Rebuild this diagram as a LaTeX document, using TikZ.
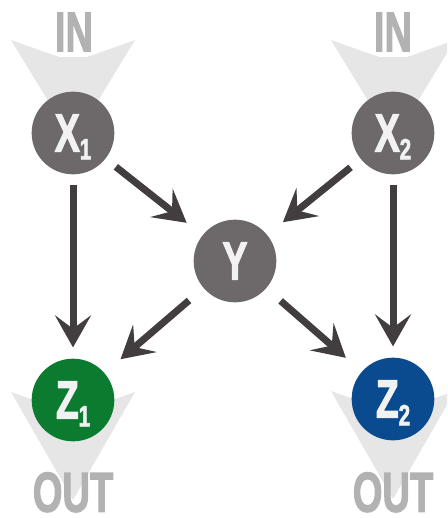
\documentclass[tikz,border=0pt]{standalone}
\usepackage{fontspec}
\setmainfont{Liberation Sans}
\newfontfamily\heavyfont{Liberation Sans Bold}[FakeBold=2.5]
\usetikzlibrary{arrows.meta,calc}

\definecolor{nodegray}{RGB}{109,105,106}
\definecolor{arrowgray}{RGB}{66,62,63}
\definecolor{zgreen}{RGB}{11,123,48}
\definecolor{zblue}{RGB}{10,74,143}
\definecolor{funnelgray}{RGB}{230,230,230}
\definecolor{inoutgray}{RGB}{178,178,178}
\definecolor{labwhite}{RGB}{242,242,242}

\newcommand{\cond}[1]{\scalebox{0.68}[1]{#1}}
\newcommand{\lab}[2]{\scalebox{0.7}[1]{\fontsize{40}{40}\selectfont #1\raisebox{-6pt}{\fontsize{22}{22}\selectfont #2}}}

\begin{document}
\begin{tikzpicture}[x=0.75pt,y=-0.75pt,
  var/.style={circle,fill=nodegray,minimum size=62pt,inner sep=0pt,
    text=labwhite,font=\heavyfont,text depth=0pt},
  inout/.style={text=inoutgray,font=\heavyfont\fontsize{42}{42}\selectfont,
    inner sep=0pt,text depth=0pt},
  funnel/.style={fill=funnelgray},
  arr/.style={draw=arrowgray,line width=5.25pt,
    -{Stealth[length=24pt,width=27pt,inset=10pt]}}]

  \useasboundingbox (0,0) rectangle (447,518);
  \clip (0,0) rectangle (447,518);

  \coordinate (x1) at (73,133);
  \coordinate (x2) at (393,133);
  \coordinate (z1) at (73,400);
  \coordinate (z2) at (393,399);

  % funnels
  \foreach \n in {x1,x2}
    \fill[funnel] ($(\n)+(-62,-93)$) -- ($(\n)+(-14,-76)$) -- ($(\n)+(14,-76)$)
      -- ($(\n)+(62,-93)$) -- ($(\n)+(0,9)$) -- cycle;
  \foreach \n in {z1,z2}
    \fill[funnel] ($(\n)+(-62,-8)$) -- ($(\n)+(-14,9)$) -- ($(\n)+(14,9)$)
      -- ($(\n)+(62,-8)$) -- ($(\n)+(0,100)$) -- cycle;

  \node[inout] (in1) at (74,32) {\cond{IN}};
  \node[inout] (in2) at (393,32) {\cond{IN}};
  \node[inout] (out1) at (73,492) {\cond{OUT}};
  \node[inout] (out2) at (393,492) {\cond{OUT}};

  \node[var] (X1) at (x1) {\lab{X}{1}};
  \node[var] (X2) at (x2) {\lab{X}{2}};
  \node[var] (Y) at (235,261) {\lab{Y}{}};
  \node[var,fill=zgreen] (Z1) at (z1) {\lab{Z}{1}};
  \node[var,fill=zblue] (Z2) at (z2) {\lab{Z}{2}};

  \draw[arr,shorten <=7.5pt,shorten >=8.25pt] (X1) -- (Z1);
  \draw[arr,shorten <=7.5pt,shorten >=8.25pt] (X2) -- (Z2);
  \draw[arr,shorten <=9.75pt,shorten >=15pt] (X1) -- (Y);
  \draw[arr,shorten <=9.75pt,shorten >=15pt] (X2) -- (Y);
  \draw[arr,shorten <=14.25pt,shorten >=15.75pt] (Y) -- (Z1);
  \draw[arr,shorten <=14.25pt,shorten >=15.75pt] (Y) -- (Z2);

\end{tikzpicture}
\end{document}
